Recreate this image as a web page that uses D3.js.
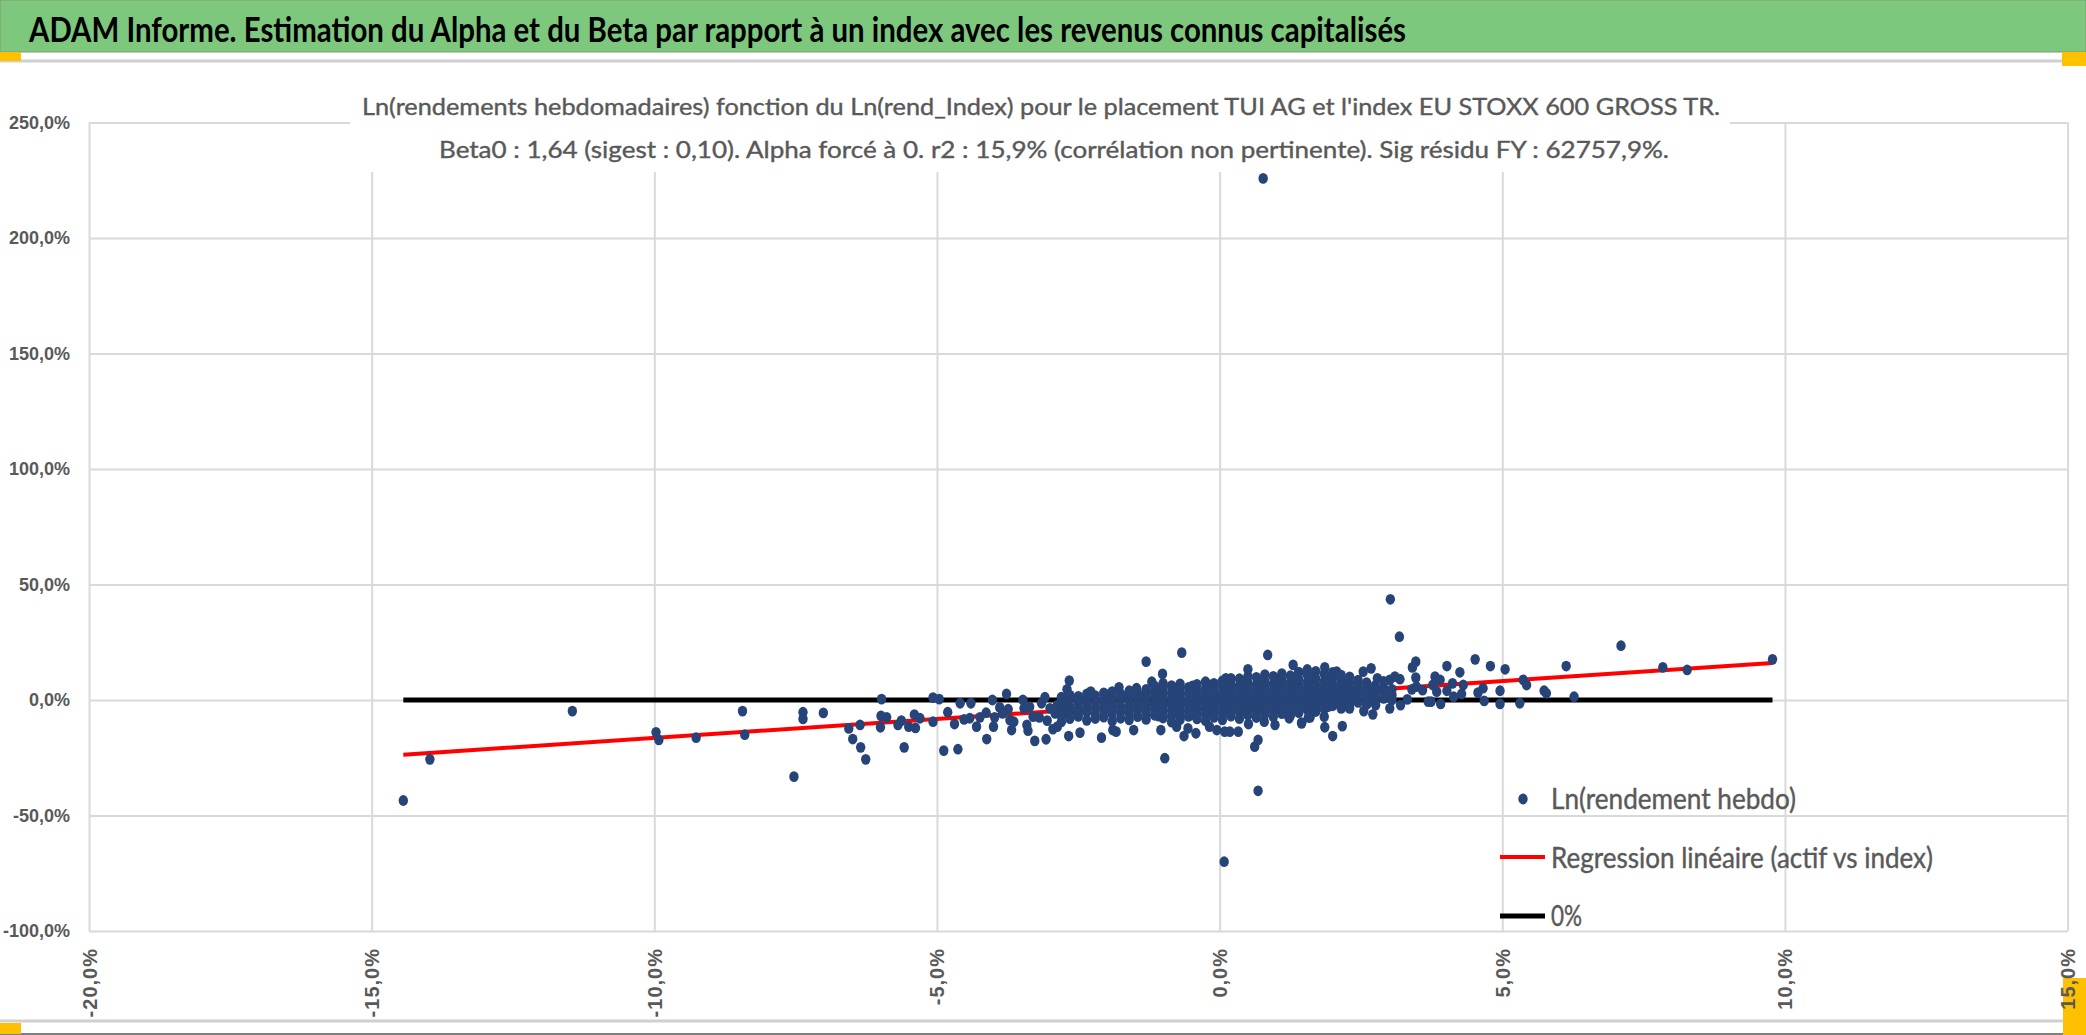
<!DOCTYPE html>
<html>
<head>
<meta charset="utf-8">
<script src="https://cdn.jsdelivr.net/npm/d3@7"></script>
<style>
body { margin: 0; background: #fff; }
</style>
</head>
<body>
<script>
//Données (en %)

var xTicks = [-20, -15, -10, -5, 0, 5, 10, 15];
var yTicks = [-100, -50, 0, 50, 100, 150, 200, 250];
var beta = 1.64;

var titre = "ADAM Informe. Estimation du Alpha et du Beta par rapport à un index avec les revenus connus capitalisés";
var sousTitre1 = "Ln(rendements hebdomadaires) fonction du Ln(rend_Index) pour le placement TUI AG et l'index EU STOXX 600 GROSS TR.";
var sousTitre2 = "Beta0 : 1,64 (sigest : 0,10). Alpha forcé à 0. r2 : 15,9% (corrélation non pertinente). Sig résidu FY : 62757,9%.";
var legendes = ["Ln(rendement hebdo)", "Regression linéaire (actif vs index)", "0%"];

//Points isolés
var pointsExtremes = [
	[0.77, 225.8], [3.02, 43.6], [3.18, 27.4], [7.10, 23.5], [0.08, -70.0],
	[0.68, -39.3], [-14.44, -43.5], [-13.97, -25.7], [-7.53, -33.2], [9.78, 17.6]
];

var pointsGauche = [
	[-11.45, -4.8], [-9.97, -14.0], [-9.92, -17.3], [-9.26, -16.3], [-8.44, -4.8], [-8.40, -15.0],
	[-7.37, -5.3], [-7.37, -8.2], [-7.01, -5.6], [-6.56, -12.3], [-6.49, -16.9], [-6.36, -10.8],
	[-6.35, -20.5], [-6.26, -25.7], [-5.98, 0.4], [-5.99, -6.9], [-6.0, -11.8], [-5.89, -7.5],
	[-5.69, -10.8], [-5.63, -8.9], [-5.58, -20.5], [-5.50, -11.5], [-5.40, -6.3], [-5.38, -12.1],
	[-5.30, -7.9], [-5.07, -9.4], [-5.07, 1.0], [-4.96, 0.4], [-4.88, -21.9], [-4.81, -5.3],
	[-4.69, -10.4], [-4.63, -21.3], [-4.59, -1.4], [-4.52, -8.4], [-4.42, -7.9], [-4.40, -1.4],
	[-4.30, -11.5], [-4.24, -7.5], [-4.13, -5.5], [-4.12, -16.9], [-4.02, 0.0], [-4.0, -11.5],
	[-3.98, -7.5], [-3.89, -3.2], [-3.84, -5.8], [-3.77, 2.6], [-3.74, -4.0], [-3.71, -8.7],
	[-3.68, -13.0], [-3.64, -9.4], [-3.48, 0.0], [-3.46, -3.6], [-3.41, -10.8], [-3.39, -13.3],
	[-3.36, -2.9], [-3.30, -7.2], [-3.27, -17.7], [-3.19, -7.5], [-3.15, -1.4], [-3.09, 1.2],
	[-3.07, -17.0], [-3.05, -8.9], [-3.00, -3.6], [-2.95, -12.6], [-2.91, -5.8], [-2.87, -2.2],
	[-2.87, -11.5]
];

var pointsCentre = [
	[-2.66, 8.4], [-2.70, 4.6], [-2.67, -15.6], [-2.47, -14.1], [-2.28, 3.6], [-2.09, -16.3],
	[-1.94, 2.6], [-1.89, -13.0], [-1.83, -13.7], [-1.78, 5.5], [-1.52, -13.0], [-1.47, 5.1],
	[-1.30, 16.6], [-1.20, 7.9], [-1.04, -13.0], [-1.01, 11.3], [-1.0, 7.2], [-0.97, -25.2],
	[-0.76, -11.5], [-0.67, 20.5], [-0.63, -15.6], [-0.56, -12.3], [-0.42, -14.4], [-0.18, -11.5],
	[-0.05, -13.0], [0.11, 9.4], [0.09, -13.7], [0.18, -13.7], [0.33, -13.7], [0.50, 13.3],
	[0.51, -10.4], [0.62, -20.2], [0.68, -17.3], [0.79, -9.4], [0.85, 19.5], [0.98, -10.8],
	[1.30, 15.2], [1.23, -7.9], [1.39, 11.6], [1.45, -10.1], [1.57, -7.5]
];

var pointsDroite = [
	[3.47, 16.6], [3.41, 14.1], [3.47, 9.7], [4.02, 14.7], [4.25, 12.0], [4.52, 17.6],
	[4.79, 14.7], [5.05, 13.3], [5.37, 8.7], [5.43, 6.5], [5.74, 4.0], [5.78, 2.9],
	[4.96, 4.0], [4.96, -1.7], [5.31, -1.4], [4.68, -0.4], [4.66, 5.1], [4.57, 3.2],
	[4.31, 6.5], [4.28, 2.6], [4.14, 1.4], [4.12, 7.2], [4.02, 4.0], [3.91, -1.7],
	[3.84, 3.6], [3.81, 10.1], [3.90, 8.7], [3.77, 6.5], [3.74, -0.7], [3.69, -0.7],
	[3.59, 4.3], [3.48, 5.8], [3.40, 4.6], [3.32, 0.3], [3.19, 9.0], [3.20, -2.2],
	[3.10, 10.1], [3.01, -3.6], [3.01, 8.7], [2.79, 9.4], [2.68, 13.7], [2.54, 12.3],
	[2.55, -4.8], [2.71, -6.2], [2.76, -2.2], [2.17, -11.3], [2.0, -15.6], [1.86, -11.8],
	[1.85, -7.2], [1.60, -7.5], [1.45, -9.8], [1.86, 14.1], [2.07, 12.3], [2.30, -3.6],
	[6.13, 14.7], [6.27, 1.4], [7.84, 14.1], [8.27, 13.0]
];

//Coeur du nuage (trop dense pour lire chaque point) : colonnes de points estimés
var nuageColonnes = [
	{x: -2.8, y: [-1.5, -4.2, 1.2, -6.8, -9.5]},
	{x: -2.72, y: [-3.0, 0.1, -5.9]},
	{x: -2.65, y: [0.3, -2.8, -5.5, 2.1, -8.1]},
	{x: -2.5, y: [-1.2, -3.9, 1.6, -7.1, -0.2, -5.4]},
	{x: -2.35, y: [0.8, -2.4, -5.2, 2.6, -8.8]},
	{x: -2.2, y: [-0.9, -3.6, 1.9, -6.3, -8.0]},
	{x: -2.05, y: [0.2, -2.1, -4.7, 3.1, -7.4]},
	{x: -1.9, y: [-1.3, 1.4, -3.8, -6.0, 3.6, -9.2]},
	{x: -1.75, y: [0.6, -2.6, -5.1, 2.7, -7.9]},
	{x: -1.6, y: [-0.4, 1.9, -3.2, -5.8, 4.0, -8.6]},
	{x: -1.45, y: [0.9, -1.8, -4.4, 3.0, -7.2]},
	{x: -1.3, y: [-0.7, 2.2, -2.9, -5.5, 4.6, -8.4]},
	{x: -1.15, y: [1.3, -1.5, -4.0, 3.5, -6.6, 6.0]},
	{x: -1.08, y: [0.5, -2.2, -4.8, 4.2, -7.0]},
	{x: -1.0, y: [-0.3, 2.4, -2.6, -5.1, 5.1, -7.8]},
	{x: -0.85, y: [0.7, -1.9, 3.3, -4.4, 6.2, -6.9, -9.6]},
	{x: -0.78, y: [-0.1, 2.6, -3.0, 5.0, -5.2]},
	{x: -0.7, y: [-0.8, 1.8, -3.3, 4.4, -5.9, -8.5, 7.0]},
	{x: -0.55, y: [0.4, 2.9, -2.1, -4.6, 5.5, -7.1]},
	{x: -0.48, y: [-1.1, 1.1, 3.5, -3.6, 6.1, -6.2]},
	{x: -0.4, y: [-0.5, 1.6, -2.9, 3.9, -5.4, 6.8, -8.2]},
	{x: -0.25, y: [0.9, -1.6, 2.8, -3.9, 5.0, -6.3, 7.9, -9.0]},
	{x: -0.18, y: [-0.6, 1.7, -3.2, 3.8, -5.6, 6.4]},
	{x: -0.1, y: [-0.2, 2.1, -2.6, 4.3, -4.8, 7.2, -7.5]},
	{x: 0.05, y: [1.1, -1.3, 3.2, -3.6, 5.8, -5.9, 8.3, -8.6]},
	{x: 0.12, y: [-0.4, 2.0, -2.7, 4.4, -5.1, 6.9]},
	{x: 0.2, y: [0.3, 2.6, -2.0, 4.7, -4.4, 7.0, -7.0, 9.4]},
	{x: 0.35, y: [1.4, -0.9, 3.7, -3.1, 6.1, -5.3, 9.2, -8.1]},
	{x: 0.42, y: [0.2, 2.5, -2.2, 5.0, -4.6, 7.9]},
	{x: 0.5, y: [0.6, 2.9, -1.7, 5.2, -4.0, 7.6, -6.6, 10.3]},
	{x: 0.65, y: [1.8, -0.6, 4.1, -2.8, 6.6, -5.0, 9.8, -7.6]},
	{x: 0.72, y: [0.5, 2.9, -1.8, 5.4, -4.1, 8.2]},
	{x: 0.8, y: [0.9, 3.3, -1.4, 5.6, -3.7, 8.1, -6.2, 11.0]},
	{x: 0.95, y: [2.1, -0.3, 4.4, -2.5, 7.0, -4.8, 10.2, -7.3]},
	{x: 1.02, y: [0.8, 3.2, -1.6, 5.7, -3.9, 8.7]},
	{x: 1.1, y: [1.2, 3.6, -1.1, 6.0, -3.4, 8.6, -5.9, 11.4]},
	{x: 1.25, y: [2.4, 0.1, 4.8, -2.2, 7.3, -4.6, 10.5, -6.8]},
	{x: 1.32, y: [1.1, 3.5, -1.2, 6.1, -3.6, 9.1]},
	{x: 1.4, y: [1.5, 3.9, -0.8, 6.3, -3.1, 9.0, -5.5, 12.1]},
	{x: 1.55, y: [2.7, 0.4, 5.1, -1.9, 7.7, -4.2, 11.0, 13.2]},
	{x: 1.62, y: [1.4, 3.8, -0.9, 6.4, -3.3, 9.5]},
	{x: 1.7, y: [1.8, 4.2, -0.5, 6.6, -2.8, 9.3, -5.0, 12.4]},
	{x: 1.85, y: [3.0, 0.7, 5.4, -1.6, 8.0, -3.9, 11.3]},
	{x: 1.92, y: [1.7, 4.1, -0.6, 6.7, -2.9, 9.9]},
	{x: 2.0, y: [2.1, 4.5, -0.2, 6.9, -2.5, 9.6, 12.0]},
	{x: 2.15, y: [3.3, 1.0, 5.7, -1.3, 8.3, -3.6, 10.8]},
	{x: 2.22, y: [2.0, 4.4, -0.3, 7.0, -2.6]},
	{x: 2.3, y: [2.4, 4.8, 0.1, 7.2, -2.2, 10.0]},
	{x: 2.45, y: [3.6, 1.3, 6.0, -1.0, 8.6]},
	{x: 2.6, y: [2.7, 5.1, 0.4, 7.5, -1.9]},
	{x: 2.75, y: [3.9, 1.6, 6.3, -0.7]},
	{x: 2.9, y: [3.0, 5.4, 0.7, 8.0]},
	{x: 3.05, y: [2.2, 4.6, 0.0]}
];

//Construction de la liste de points
var points = pointsExtremes.concat(pointsGauche, pointsCentre, pointsDroite);
nuageColonnes.forEach(function(c) {
	c.y.forEach(function(v) { points.push([c.x, v]); });
});

var w = 2086;
var h = 1035;
var bleu = "#264478";
var gris = "#595959";
var grille = "#d9d9d9";
var rayonX = 4.7;
var rayonY = 5.4;

var x = d3.scaleLinear().domain([-20, 15]).range([89, 2067.6]);
var y = d3.scaleLinear().domain([-100, 250]).range([931, 122.5]);

function format(d) { return d.toFixed(1).replace(".", ",") + "%"; }

var svg = d3.select("body")
	.append("svg")
	.attr("width", w)
	.attr("height", h)
	.style("font-family", "Lato, 'Open Sans', sans-serif");

//Bandeau vert du titre
svg.append("rect")
	.attr("x", 0).attr("y", 0)
	.attr("width", w).attr("height", 52)
	.style("fill", "#7dc87d")
	.style("stroke", "#7a9a7a")
	.style("stroke-width", 1);

svg.append("text")
	.text(titre)
	.attr("x", 29)
	.attr("y", 42)
	.attr("textLength", 1377)
	.attr("lengthAdjust", "spacingAndGlyphs")
	.style("font-size", "34px")
	.style("font-weight", "bold")
	.style("fill", "#000");

//Cadre gris et poignées jaunes
svg.append("line").attr("x1", 0).attr("x2", w).attr("y1", 61).attr("y2", 61)
	.style("stroke", "#d0d0d0").style("stroke-width", 3);
svg.append("line").attr("x1", 0).attr("x2", w).attr("y1", 1021).attr("y2", 1021)
	.style("stroke", "#d0d0d0").style("stroke-width", 3);
svg.append("line").attr("x1", 0).attr("x2", w).attr("y1", 1034).attr("y2", 1034)
	.style("stroke", "#808080").style("stroke-width", 2);

var poignees = [[0, 52, 21, 9], [2062, 52, 24, 14], [0, 1023, 21, 11], [2063, 978, 23, 57]];
svg.selectAll(".poignee")
	.data(poignees)
	.enter()
	.append("rect")
	.attr("x", function(d) { return d[0]; })
	.attr("y", function(d) { return d[1]; })
	.attr("width", function(d) { return d[2]; })
	.attr("height", function(d) { return d[3]; })
	.style("fill", "#ffc000");

//Grille
var yAxis = d3.axisLeft(y)
	.tickValues(yTicks)
	.tickFormat(format)
	.tickSize(-(x.range()[1] - x.range()[0]))
	.tickPadding(19);

var gy = svg.append("g")
	.attr("transform", "translate(" + x.range()[0] + ",0)")
	.call(yAxis);
gy.select(".domain").remove();
gy.selectAll("line").style("stroke", grille).style("stroke-width", 2);
gy.selectAll("text")
	.style("font-size", "18px")
	.style("font-weight", "bold")
	.style("fill", gris);

var xAxis = d3.axisBottom(x)
	.tickValues(xTicks)
	.tickFormat(format)
	.tickSize(-(y.range()[0] - y.range()[1]));

var gx = svg.append("g")
	.attr("transform", "translate(0," + y.range()[0] + ")")
	.call(xAxis);
gx.select(".domain").remove();
gx.selectAll("line").style("stroke", grille).style("stroke-width", 2);
gx.selectAll("text")
	.attr("transform", "translate(0,17) rotate(-90)")
	.attr("x", 0)
	.attr("y", 0)
	.attr("dy", "0.35em")
	.style("text-anchor", "end")
	.style("font-size", "20px")
	.style("letter-spacing", "1px")
	.style("font-weight", "bold")
	.style("fill", gris);

//Zone blanche du titre du graphique
svg.append("rect")
	.attr("x", 350).attr("y", 70)
	.attr("width", 1380).attr("height", 102)
	.style("fill", "#fff");

svg.append("text")
	.text(sousTitre1)
	.attr("x", 1041)
	.attr("y", 115)
	.attr("textLength", 1358)
	.attr("lengthAdjust", "spacingAndGlyphs")
	.style("text-anchor", "middle")
	.style("font-size", "24px")
	.style("fill", gris)
	.style("stroke", gris)
	.style("stroke-width", 0.4);

svg.append("text")
	.text(sousTitre2)
	.attr("x", 1054)
	.attr("y", 158)
	.attr("textLength", 1230)
	.attr("lengthAdjust", "spacingAndGlyphs")
	.style("text-anchor", "middle")
	.style("font-size", "24px")
	.style("fill", gris)
	.style("stroke", gris)
	.style("stroke-width", 0.4);

//Droite de régression et ligne 0%
var etendue = d3.extent(points, function(d) { return d[0]; });

svg.append("line")
	.attr("x1", x(etendue[0])).attr("x2", x(etendue[1]))
	.attr("y1", y(0)).attr("y2", y(0))
	.style("stroke", "#000")
	.style("stroke-width", 5);

svg.append("line")
	.attr("x1", x(etendue[0])).attr("x2", x(etendue[1]))
	.attr("y1", y(beta * etendue[0])).attr("y2", y(beta * etendue[1]))
	.style("stroke", "#ff0000")
	.style("stroke-width", 4);

//Nuage de points
svg.selectAll(".point")
	.data(points)
	.enter()
	.append("ellipse")
	.attr("class", "point")
	.attr("cx", function(d) { return x(d[0]); })
	.attr("cy", function(d) { return y(d[1]); })
	.attr("rx", rayonX)
	.attr("ry", rayonY)
	.style("fill", bleu);

//Légende
var legende = svg.append("g")
	.attr("transform", "translate(1500,799)");

legende.append("ellipse")
	.attr("cx", 23).attr("cy", 0)
	.attr("rx", rayonX).attr("ry", rayonY)
	.style("fill", bleu);

legende.append("line")
	.attr("x1", 0).attr("x2", 45)
	.attr("y1", 58).attr("y2", 58)
	.style("stroke", "#ff0000")
	.style("stroke-width", 4);

legende.append("line")
	.attr("x1", 0).attr("x2", 45)
	.attr("y1", 117).attr("y2", 117)
	.style("stroke", "#000")
	.style("stroke-width", 5);

var largeurs = [245, 382, 31];
legende.selectAll(".legendeTexte")
	.data(legendes)
	.enter()
	.append("text")
	.text(function(d) { return d; })
	.attr("x", 51)
	.attr("y", function(d, i) { return i * 58.5 + 10; })
	.attr("textLength", function(d, i) { return largeurs[i]; })
	.attr("lengthAdjust", "spacingAndGlyphs")
	.style("font-size", "28px")
	.style("fill", gris)
	.style("stroke", gris)
	.style("stroke-width", 0.4);
</script>
</body>
</html>
